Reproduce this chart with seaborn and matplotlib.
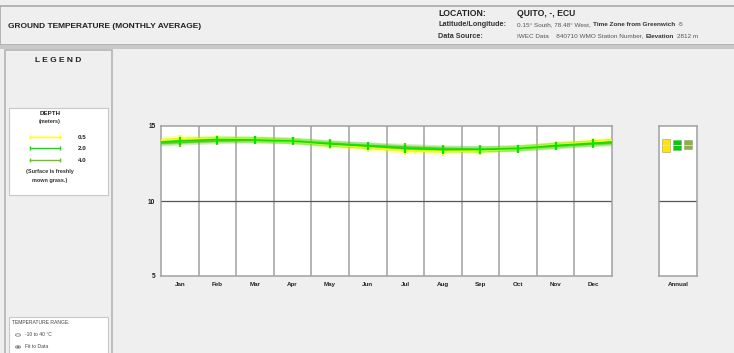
import numpy as np
import pandas as pd
import matplotlib
matplotlib.use("Agg")
import matplotlib.pyplot as plt
from matplotlib.patches import Rectangle, Circle
import seaborn as sns

# Monthly mean ground temperature (°C) at three depths
months = ["Jan", "Feb", "Mar", "Apr", "May", "Jun", "Jul", "Aug", "Sep", "Oct", "Nov", "Dec"]
depths = ["0.5", "2.0", "4.0"]
temp_05 = [14.15, 14.15, 14.1, 14.0, 13.75, 13.55, 13.35, 13.3, 13.35, 13.5, 13.75, 13.95]
temp_20 = [14.0, 14.1, 14.07, 14.0, 13.8, 13.67, 13.5, 13.43, 13.43, 13.5, 13.7, 13.85]
temp_40 = [13.9, 14.0, 14.05, 14.0, 13.85, 13.7, 13.6, 13.5, 13.45, 13.5, 13.65, 13.8]
y_ticks = [5, 10, 15]

colors = {"0.5": "#ffff00", "2.0": "#00e600", "4.0": "#6cc31c"}
annual_colors = {"0.5": "#ffe600", "2.0": "#00d000", "4.0": "#8cb43c"}
series = {"0.5": temp_05, "2.0": temp_20, "4.0": temp_40}
draw_order = ["4.0", "0.5", "2.0"]

df = pd.DataFrame({
    "month": list(range(12)) * 3,
    "depth": [d for d in depths for _ in range(12)],
    "temp": temp_05 + temp_20 + temp_40,
})
# the year wraps around: Dec precedes Jan and Jan follows Dec (clipped at the frame)
wrap = pd.DataFrame({
    "month": [-1, 12] * 3,
    "depth": [d for d in depths for _ in range(2)],
    "temp": [v for d in depths for v in (series[d][-1], series[d][0])],
})
df_line = pd.concat([df, wrap]).sort_values(["depth", "month"])

W, H = 734, 353
fig = plt.figure(figsize=(W / 100, H / 100), dpi=100)
fig.patch.set_facecolor("#efefef")
plt.rcParams["font.family"] = ["Liberation Sans", "DejaVu Sans"]
renderer = fig.canvas.get_renderer()

def box(x0, y0, x1, y1, fc, ec="#b4b4b4", lw=1.0, z=0):
    fig.add_artist(Rectangle((x0 / W, 1 - y1 / H), (x1 - x0) / W, (y1 - y0) / H,
                             transform=fig.transFigure, facecolor=fc, edgecolor=ec,
                             linewidth=lw, zorder=z))

def txt(x, y, s, **kw):
    kw.setdefault("fontsize", 5)
    kw.setdefault("va", "center")
    return fig.text(x / W, 1 - y / H, s, **kw)

def chain(x, y, parts, gap=2.5, **kw):
    """Write several runs of text one after another on one line."""
    for s, bold, color in parts:
        t = txt(x, y, s, fontweight="bold" if bold else "normal", color=color, **kw)
        x = t.get_window_extent(renderer).x1 + gap

# header band
box(0, 6, W + 2, 45, "#efefef", ec="#aaaaaa", lw=1.2)
fig.add_artist(Rectangle((0, 1 - 49 / H), 1, 4 / H, transform=fig.transFigure,
                         facecolor="#c8c8c8", edgecolor="none"))
txt(8, 27, "GROUND TEMPERATURE (MONTHLY AVERAGE)", fontsize=6, fontweight="bold", color="#222222")
txt(438, 14, "LOCATION:", fontsize=6.2, fontweight="bold", color="#222222")
txt(517, 14, "QUITO, -, ECU", fontsize=6.2, fontweight="bold", color="#222222")
txt(438, 25, "Latitude/Longitude:", fontsize=5.2, fontweight="bold", color="#333333")
chain(517, 25, [("0.15° South, 78.48° West,", False, "#555555"),
                ("Time Zone from Greenwich", True, "#333333"),
                ("-5", False, "#555555")], fontsize=4.6)
txt(438, 36, "Data Source:", fontsize=5.2, fontweight="bold", color="#333333")
chain(517, 36, [("IWEC Data", False, "#555555"),
                ("   840710 WMO Station Number,", False, "#555555"),
                ("Elevation", True, "#333333"),
                ("2812 m", False, "#555555")], fontsize=4.6)

# left legend panel
box(5, 50, 112, 356, "#efefef", ec="#b4b4b4", lw=1.2)
txt(58, 60, "L E G E N D", fontsize=6, fontweight="bold", ha="center", color="#222222")
box(9, 108, 108, 195, "white", ec="#c8c8c8", lw=0.8)
txt(50, 114, "DEPTH", fontsize=4.5, fontweight="bold", ha="center", color="#222222")
txt(50, 122, "(meters)", fontsize=4, fontweight="bold", ha="center", color="#333333")
for i, d in enumerate(depths):
    yy = 1 - (137 + i * 11.5) / H
    fig.add_artist(plt.Line2D([30 / W, 60 / W], [yy, yy], transform=fig.transFigure,
                              color=colors[d], lw=1.0, marker="|", markersize=2.5,
                              markevery=[0, 1]))
    txt(78, 137 + i * 11.5, d, fontsize=4.5, fontweight="bold", color="#222222")
txt(50, 172, "(Surface is freshly", fontsize=4, fontweight="bold", ha="center", color="#333333")
txt(50, 181, "mown grass.)", fontsize=4, fontweight="bold", ha="center", color="#333333")

box(9, 317, 108, 356, "white", ec="#c8c8c8", lw=0.8)
txt(12, 323, "TEMPERATURE RANGE:", fontsize=3.6, color="#444444")
fig.add_artist(Circle((18 / W, 1 - 335 / H), 2.6 / W, transform=fig.transFigure,
                      facecolor="white", edgecolor="#888888", lw=0.6))
txt(25, 335, "-10 to 40 °C", fontsize=3.6, color="#444444")
fig.add_artist(Circle((18 / W, 1 - 347 / H), 2.6 / W, transform=fig.transFigure,
                      facecolor="white", edgecolor="#888888", lw=0.6))
fig.add_artist(Circle((18 / W, 1 - 347 / H), 1.3 / W, transform=fig.transFigure,
                      facecolor="#333333", edgecolor="none"))
txt(25, 347, "Fit to Data", fontsize=3.6, color="#444444")

# monthly chart
ax = fig.add_axes([161 / W, (H - 276) / H, 451 / W, 150 / H])
ax.set_facecolor("white")
for d in draw_order:
    sub = df_line[df_line["depth"] == d]
    ax.plot(sub["month"], sub["temp"], color=colors[d], lw=4.5, alpha=0.3, zorder=2)
for k, d in enumerate(draw_order):
    sns.lineplot(data=df_line[df_line["depth"] == d], x="month", y="temp",
                 color=colors[d], ax=ax, lw=1.2, legend=False, zorder=3 + k)
    sns.scatterplot(data=df[df["depth"] == d], x="month", y="temp", color=colors[d],
                    ax=ax, marker="|", s=30, linewidth=1.6, legend=False, zorder=3 + k)
ax.set_xlim(-0.5, 11.5)
ax.set_ylim(5, 15)
for b in np.arange(0.5, 11.5, 1):
    ax.axvline(b, color="#a0a0a0", lw=1.1, zorder=1)
ax.axhline(10, color="#555555", lw=0.9, zorder=1)
ax.set_xticks(range(12))
ax.set_xticklabels(months, fontsize=4.5, fontweight="bold", color="#222222")
ax.set_yticks(y_ticks)
ax.set_yticklabels([str(v) for v in y_ticks], fontsize=4.8, fontweight="bold", color="#222222")
ax.tick_params(length=0, pad=4)
ax.set_xlabel("")
ax.set_ylabel("")
for s in ax.spines.values():
    s.set_color("#a0a0a0")
    s.set_linewidth(1.1)

# annual range summary
ax2 = fig.add_axes([659 / W, (H - 276) / H, 38 / W, 150 / H])
ax2.set_facecolor("white")
ax2.set_xlim(0, 3.6)
ax2.set_ylim(5, 15)
ax2.axhline(10, color="#555555", lw=0.9)
for i, d in enumerate(depths):
    vals = series[d]
    lo, hi, mid = min(vals), max(vals), float(np.mean(vals))
    ax2.bar(0.3 + i * 1.05, hi - lo, bottom=lo, width=0.75, align="edge",
            color=annual_colors[d], edgecolor="#999999", lw=0.4)
    ax2.plot([0.3 + i * 1.05, 1.05 + i * 1.05], [mid, mid], color="#dddddd", lw=0.6)
ax2.set_xticks([1.8])
ax2.set_xticklabels(["Annual"], fontsize=4.5, fontweight="bold", color="#222222")
ax2.set_yticks([])
ax2.tick_params(length=0, pad=4)
for s in ax2.spines.values():
    s.set_color("#a0a0a0")
    s.set_linewidth(1.1)

fig.savefig("out.png", dpi=100, facecolor=fig.get_facecolor())
